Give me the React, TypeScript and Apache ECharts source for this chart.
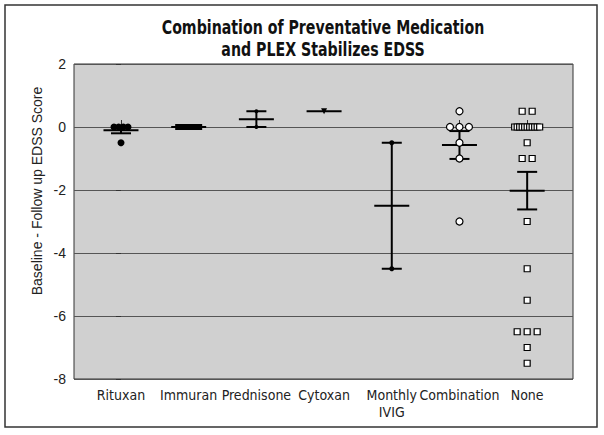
import React, { useEffect, useRef } from "react";
import * as echarts from "echarts";

// ---- data ----
const categories = ["Rituxan", "Immuran", "Prednisone", "Cytoxan", "Monthly\nIVIG", "Combination", "None"];
const rituxan = [0, 0, 0, 0, -0.5];
const immuran = [0, 0, 0, 0, 0, 0];
const prednisone = [0.5, 0];
const cytoxan = [0.5];
const monthlyIvig = [-0.5, -4.5];
const combination = [0.5, 0, 0, 0, -0.5, -1, -3];
const none = [0.5, 0.5, 0, 0, 0, 0, 0, 0, 0, 0, 0, 0, 0, -0.5, -1, -1, -3, -4.5, -5.5, -6.5, -6.5, -6.5, -7, -7.5];
const yTicks = [2, 0, -2, -4, -6, -8];
const yAxisTitle = "Baseline - Follow up EDSS Score";
const titleText = "Combination of Preventative Medication\nand PLEX Stabilizes EDSS";

const groups = [rituxan, immuran, prednisone, cytoxan, monthlyIvig, combination, none];

// ---- layout / styles ----
const GRID = { left: 74, top: 64, width: 499, height: 315 };
const X_MIN = -0.694;
const X_MAX = 6.677;
const PX_PER_UNIT = GRID.width / (X_MAX - X_MIN);
const NARROW = "'Liberation Sans Narrow', 'DejaVu Sans Condensed', 'Arial Narrow', sans-serif";
const SANS = "'Liberation Sans', Arial, sans-serif";

const markerStyles = [
  { symbol: "circle", size: 7, fill: "#000", border: "#000", step: 5, span: 14 },
  { symbol: "rect", size: 6, fill: "#000", border: "#000", step: 4.2, span: 21 },
  { symbol: "circle", size: 4, fill: "#000", border: "#000", step: 5, span: 10 },
  { symbol: "triangle", size: 6, fill: "#000", border: "#000", step: 5, span: 10, rotate: 180 },
  { symbol: "circle", size: 5, fill: "#000", border: "#000", step: 5, span: 10 },
  { symbol: "circle", size: 7, fill: "#fff", border: "#000", step: 9.5, span: 20 },
  { symbol: "rect", size: 6, fill: "#fff", border: "#000", step: 10, span: 25 },
];

function swarm(values: number[], idx: number, stepPx: number, spanPx: number) {
  const byVal = new Map<number, number[]>();
  values.forEach((v, i) => {
    if (!byVal.has(v)) byVal.set(v, []);
    byVal.get(v)!.push(i);
  });
  const out: number[][] = [];
  byVal.forEach((list, v) => {
    const n = list.length;
    const step = n > 1 ? Math.min(stepPx, spanPx / (n - 1)) : 0;
    list.forEach((_, k) => {
      const offPx = (k - (n - 1) / 2) * step;
      out.push([idx + offPx / PX_PER_UNIT, v]);
    });
  });
  return out;
}

function stats(values: number[], idx: number) {
  const n = values.length;
  const mean = values.reduce((a, b) => a + b, 0) / n;
  let sem = 0;
  if (n > 1) {
    const ss = values.reduce((a, b) => a + (b - mean) * (b - mean), 0);
    sem = Math.sqrt(ss / (n - 1)) / Math.sqrt(n);
  }
  return [idx, mean, sem];
}

export default function App() {
  const ref = useRef<HTMLDivElement>(null);
  useEffect(() => {
    if (!ref.current) return;
    const chart = echarts.init(ref.current, null, { renderer: "svg" });

    const scatterSeries = groups.map((vals, i) => {
      const m = markerStyles[i];
      return {
        type: "scatter",
        name: categories[i],
        z: 3,
        symbol: m.symbol,
        symbolSize: m.size,
        symbolRotate: (m as any).rotate || 0,
        itemStyle: { color: m.fill, borderColor: m.border, borderWidth: m.fill === "#fff" ? 1.2 : 0, opacity: 1 },
        data: swarm(vals, i, m.step, m.span),
      };
    });

    const errData = groups.map((vals, i) => stats(vals, i));

    const option: any = {
      animation: false,
      backgroundColor: "#fff",
      grid: {
        left: GRID.left,
        top: GRID.top,
        width: GRID.width,
        height: GRID.height,
        show: true,
        backgroundColor: "#d0d0d0",
        borderColor: "#333",
        borderWidth: 1,
      },
      xAxis: {
        type: "value",
        min: X_MIN,
        max: X_MAX,
        splitLine: { show: false },
        axisLine: { show: false },
        axisTick: {
          show: true,
          inside: true,
          length: 7,
          customValues: [0, 5, 6],
          lineStyle: { color: "#333", width: 1 },
        },
        axisLabel: {
          customValues: [0, 1, 2, 3, 4, 5, 6],
          formatter: (v: number) => categories[Math.round(v)] ?? "",
          fontFamily: NARROW,
          fontSize: 14,
          lineHeight: 17,
          color: "#222",
          margin: 7,
        },
      },
      yAxis: {
        type: "value",
        min: -8,
        max: 2,
        interval: 2,
        axisLine: { show: false },
        axisTick: { show: true, length: 5, lineStyle: { color: "#333" } },
        splitLine: { show: true, lineStyle: { color: "#555", width: 1 } },
        axisLabel: {
          fontFamily: SANS,
          fontSize: 14,
          color: "#222",
          margin: 8,
          formatter: (v: number) => (yTicks.includes(v) ? String(v) : ""),
        },
      },
      graphic: [
        {
          type: "rect",
          shape: { x: 5, y: 5, width: 592, height: 422 },
          style: { fill: "none", stroke: "#333", lineWidth: 1.5 },
          silent: true,
          z: -1,
        },
        {
          type: "text",
          x: 323,
          y: 16,
          scaleX: 0.83,
          style: {
            text: titleText,
            align: "center",
            verticalAlign: "top",
            fontFamily: NARROW,
            fontWeight: "bold",
            fontSize: 19,
            lineHeight: 22,
            fill: "#111",
          },
        },
        {
          type: "text",
          x: 37,
          y: 191,
          rotation: Math.PI / 2,
          style: {
            text: yAxisTitle,
            align: "center",
            verticalAlign: "middle",
            fontFamily: SANS,
            fontSize: 14,
            fill: "#222",
          },
        },
      ],
      series: [
        {
          type: "custom",
          z: 2,
          data: errData,
          encode: { x: 0, y: 1 },
          renderItem: (params: any, api: any) => {
            const x = api.value(0);
            const mean = api.value(1);
            const sem = api.value(2);
            const c = api.coord([x, mean]);
            const st = { stroke: "#000", lineWidth: 2 };
            const children: any[] = [
              { type: "line", shape: { x1: c[0] - 17.5, y1: c[1], x2: c[0] + 17.5, y2: c[1] }, style: st },
            ];
            if (sem > 0) {
              const t = api.coord([x, mean + sem]);
              const b = api.coord([x, mean - sem]);
              children.push({ type: "line", shape: { x1: c[0], y1: t[1], x2: c[0], y2: b[1] }, style: st });
              children.push({ type: "line", shape: { x1: c[0] - 10, y1: t[1], x2: c[0] + 10, y2: t[1] }, style: st });
              children.push({ type: "line", shape: { x1: c[0] - 10, y1: b[1], x2: c[0] + 10, y2: b[1] }, style: st });
            }
            return { type: "group", children };
          },
        },
        ...scatterSeries,
      ],
    };
    chart.setOption(option);
    return () => chart.dispose();
  }, []);
  return <div ref={ref} style={{ width: 604, height: 435, position: "absolute", left: 0, top: 0 }} />;
}
